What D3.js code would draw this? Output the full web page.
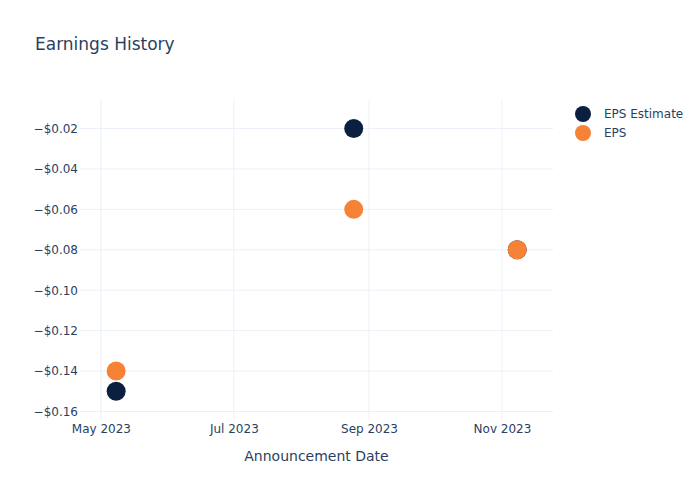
<!DOCTYPE html>
<html>
<head>
<meta charset="utf-8">
<script src="https://cdn.jsdelivr.net/npm/d3@7"></script>
<style>
  body { margin: 0; background: #fff; }
  text { font-family: "DejaVu Sans", Verdana, sans-serif; fill: #2a3f5f; }
</style>
</head>
<body>
<div id="chart"></div>
<script>
"use strict";

// announcement dates and values
const dates = ["2023-05-08", "2023-08-25", "2023-11-08"];
const epsEstimate = [-0.15, -0.02, -0.08];
const eps = [-0.14, -0.06, -0.08];
const yTicks = [-0.02, -0.04, -0.06, -0.08, -0.10, -0.12, -0.14, -0.16];
const seriesNames = ["EPS Estimate", "EPS"];
const seriesColors = ["#0b1f41", "#f68236"];

const W = 700, H = 500;
let margin = {top: 100, right: 147, bottom: 80, left: 80},
    width = W - margin.left - margin.right,
    height = H - margin.top - margin.bottom;

let svg = d3.select("#chart")
    .append("svg")
    .attr("width", W)
    .attr("height", H);

svg.append("text")
    .attr("x", 35)
    .attr("y", 50)
    .style("font-size", "17px")
    .text("Earnings History");

let g = svg.append("g")
    .attr("transform", "translate(" + margin.left + "," + margin.top + ")");

let parse = d3.utcParse("%Y-%m-%d");

let x = d3.scaleUtc()
    .domain([Date.UTC(2023, 3, 21, 10), Date.UTC(2023, 10, 24, 10)])
    .range([0, width]);

let y = d3.scaleLinear()
    .domain([-0.16421, -0.0059])
    .range([height, 0]);

// gridlines
let xTickVals = x.ticks(d3.utcMonth.every(2));
g.append("g").selectAll("line")
    .data(xTickVals)
    .enter()
    .append("line")
    .attr("x1", d => x(d)).attr("x2", d => x(d))
    .attr("y1", 0).attr("y2", height)
    .attr("stroke", "#ebf0f8");
g.append("g").selectAll("line")
    .data(yTicks)
    .enter()
    .append("line")
    .attr("x1", 0).attr("x2", width)
    .attr("y1", d => y(d)).attr("y2", d => y(d))
    .attr("stroke", "#ebf0f8");

// axes
let xAxis = g.append("g")
    .attr("transform", "translate(0," + height + ")")
    .call(d3.axisBottom(x).tickValues(xTickVals).tickFormat(d3.utcFormat("%b %Y")).tickSize(0).tickPadding(4));
let yAxis = g.append("g")
    .call(d3.axisLeft(y).tickValues(yTicks).tickFormat(d3.format("$.2f")).tickSize(0).tickPadding(2));
[xAxis, yAxis].forEach(a => {
    a.select(".domain").remove();
    a.selectAll("text").style("font-size", "12px").attr("fill", "#2a3f5f").style("font-family", "'DejaVu Sans', Verdana, sans-serif");
});

svg.append("text")
    .attr("x", margin.left + width / 2)
    .attr("y", 461)
    .attr("text-anchor", "middle")
    .style("font-size", "14px")
    .text("Announcement Date");

// markers
[epsEstimate, eps].forEach((vals, s) => {
    g.append("g").selectAll("circle")
        .data(vals)
        .enter()
        .append("circle")
        .attr("cx", (d, i) => x(parse(dates[i])))
        .attr("cy", d => y(d))
        .attr("r", 9.5)
        .attr("fill", seriesColors[s]);
});

// legend
let legend = svg.append("g").attr("transform", "translate(583,114)");
seriesNames.forEach((name, i) => {
    legend.append("circle")
        .attr("cx", 0).attr("cy", i * 19)
        .attr("r", 8)
        .attr("fill", seriesColors[i]);
    legend.append("text")
        .attr("x", 21).attr("y", i * 19 + 4)
        .style("font-size", "12px")
        .text(name);
});
</script>
</body>
</html>
